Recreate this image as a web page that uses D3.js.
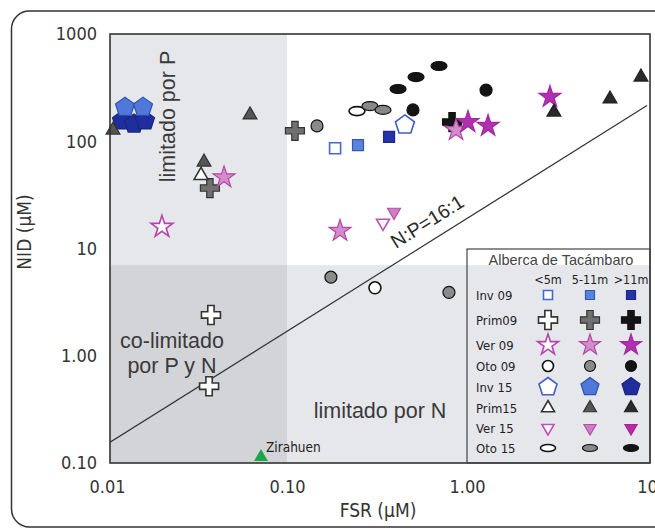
<!DOCTYPE html>
<html><head><meta charset="utf-8">
<script src="https://cdnjs.cloudflare.com/ajax/libs/d3/7.8.5/d3.min.js"></script>
<style>body{margin:0;background:#fff}svg{display:block}</style>
</head><body><svg id="c" width="655" height="529"></svg>
<script>
// ---- data ----
const xTickValues = [0.01, 0.1, 1, 10];
const xTickLabels = ["0.01", "0.10", "1.00", "10"];
const yTickValues = [0.1, 1, 10, 100, 1000];
const yTickLabels = ["0.10", "1.00", "10", "100", "1000"];
const depthClasses = ["<5m", "5-11m", ">11m"];
const seasons = ["Inv 09", "Prim09", "Ver 09", "Oto 09", "Inv 15", "Prim15", "Ver 15", "Oto 15"];
const legendTitle = "Alberca de Tacámbaro";
// points: [FSR µM, NID µM, depth class index]
const inv09  = [[0.185, 86, 0], [0.248, 92, 1], [0.369, 110, 2]];
const prim09 = [[0.0378, 2.4, 0], [0.0369, 0.52, 0], [0.0373, 36.6, 1], [0.1107, 125, 1], [0.826, 151, 2]];
const oto09  = [[0.1468, 139, 1], [0.1754, 5.4, 1], [0.794, 3.9, 1], [0.308, 4.3, 0], [0.501, 196, 2], [1.276, 300, 2]];
const inv15  = [[0.452, 142, 0], [0.01212, 155, 2], [0.01413, 145, 2], [0.01626, 155, 2], [0.01259, 208, 1], [0.01585, 208, 1]];
const prim15 = [[0.0333, 48, 0], [0.0108, 127, 1], [0.0623, 176, 1], [0.0346, 64, 1], [3.04, 187, 2], [6.23, 248, 2], [9.26, 397, 2]];
const ver15  = [[0.3415, 17.3, 0], [0.393, 21.9, 1]];
const oto15  = [[0.2448, 191, 0], [0.289, 213, 1], [0.3415, 196, 1], [0.414, 307, 2], [0.521, 397, 2], [0.699, 503, 2]];
const ver09  = [[0.0202, 15.9, 0], [0.0447, 46, 1], [0.197, 14.6, 1], [0.869, 127, 1], [1.013, 151, 2], [1.309, 139, 2], [2.89, 259, 2]];
const zirahuen = [[0.0717, 0.114]];
const ratioLineX = [0.01, 10];
const ratioLineY = [0.15, 215];
const pLimit = 0.1;
const nLimit = 7;

// ---- styles ----
const seriesData = [inv09, prim09, ver09, oto09, inv15, prim15, ver15, oto15];
const shapes = ["square", "cross", "star", "circle", "pentagon", "triUp", "triDown", "ellipse"];
const styles = [
  [{f:"#fff",s:"#4568cc"},{f:"#5a83dc",s:"#3558b8"},{f:"#2434a6",s:"#1b288a"}],
  [{f:"#fff",s:"#333"},{f:"#707070",s:"#333"},{f:"#151515",s:"#111"}],
  [{f:"#fff",s:"#b445ae"},{f:"#d48ccb",s:"#b048a8"},{f:"#b22fb0",s:"#a12aa0"}],
  [{f:"#fff",s:"#111"},{f:"#8a8a8a",s:"#111"},{f:"#141414",s:"#111"}],
  [{f:"#fff",s:"#3f5ec8"},{f:"#5078d8",s:"#3050b0"},{f:"#1f2e9c",s:"#1a2580"}],
  [{f:"#fff",s:"#333"},{f:"#555",s:"#333"},{f:"#2a2a2a",s:"#222"}],
  [{f:"#fff",s:"#c050b8"},{f:"#d27cc6",s:"#b050a8"},{f:"#b82aa8",s:"#a82098"}],
  [{f:"#fff",s:"#111"},{f:"#888",s:"#111"},{f:"#141414",s:"#111"}]
];
const plotSizes = {square:11, cross:19, star:11.5, circle:6, pentagon:10, triUp:8, triDown:7.5, ellipse:[8,4.5]};
const legSizes  = {square:9, cross:19, star:11, circle:5.5, pentagon:9.5, triUp:7.5, triDown:7, ellipse:[7.5,3.5]};

function polyPath(R, angles){
  return "M" + angles.map(a => [R*Math.cos(a*Math.PI/180), R*Math.sin(a*Math.PI/180)].map(v=>v.toFixed(2)).join(",")).join("L") + "Z";
}
function shapePath(shape, sz){
  switch(shape){
    case "square": return d3.symbol(d3.symbolSquare, sz*sz)();
    case "cross": return d3.symbol(d3.symbolCross, 5*(sz/3)*(sz/3))();
    case "star": return d3.symbol(d3.symbolStar, sz*sz/0.8908130915292852)();
    case "circle": return d3.symbol(d3.symbolCircle, Math.PI*sz*sz)();
    case "pentagon": return polyPath(sz, [-90,-18,54,126,198]);
    case "triUp": return polyPath(sz, [-90,30,150]);
    case "triDown": return polyPath(sz, [90,210,330]);
    case "ellipse": {const [rx,ry]=sz; return `M${-rx},0A${rx},${ry} 0 1,0 ${rx},0A${rx},${ry} 0 1,0 ${-rx},0Z`;}
  }
}

// ---- layout ----
const svg = d3.select("#c");
const L = 110, R = 650, T = 34, B = 463;
const x = d3.scaleLog().domain([0.01, 10]).range([107, 647]);
const y = d3.scaleLog().domain([0.1, 1000]).range([B, T]);

// outer frame
svg.append("rect").attr("x",11.5).attr("y",11).attr("width",662).attr("height",516)
  .attr("rx",18).attr("fill","none").attr("stroke","#333").attr("stroke-width",1.5);

const defs = svg.append("defs");
defs.append("clipPath").attr("id","pc").append("rect").attr("x",L).attr("y",T).attr("width",R-L).attr("height",B-T);

// regions
const bg = svg.append("g").attr("clip-path","url(#pc)");
bg.append("rect").attr("x",L).attr("y",T).attr("width",R-L).attr("height",B-T).attr("fill","#fff");
bg.append("rect").attr("x",L).attr("y",T).attr("width",x(pLimit)-L).attr("height",B-T).attr("fill","#e6e7eb");
bg.append("rect").attr("x",L).attr("y",y(nLimit)).attr("width",R-L).attr("height",B-y(nLimit)).attr("fill","#e6e7eb");
bg.append("rect").attr("x",L).attr("y",y(nLimit)).attr("width",x(pLimit)-L).attr("height",B-y(nLimit)).attr("fill","#d3d4d8");

// ratio line
bg.append("path").datum(ratioLineX.map((v,i)=>[v, ratioLineY[i]]))
  .attr("d", d3.line().x(d=>x(d[0])).y(d=>y(d[1])))
  .attr("fill","none").attr("stroke","#333").attr("stroke-width",1.2);

// region labels
const regFont = "'Liberation Sans', Arial, sans-serif";
svg.append("text").attr("transform","translate(175,116.5) rotate(-90)").attr("text-anchor","middle")
  .attr("font-family",regFont).attr("font-size",21.5).attr("fill","#3a3a3a").text("limitado por P");
svg.append("text").attr("x",172).attr("y",348).attr("text-anchor","middle")
  .attr("font-family",regFont).attr("font-size",21.5).attr("fill","#3a3a3a").text("co-limitado");
svg.append("text").attr("x",172).attr("y",373).attr("text-anchor","middle")
  .attr("font-family",regFont).attr("font-size",21.5).attr("fill","#3a3a3a").text("por P y N");
svg.append("text").attr("x",380).attr("y",418).attr("text-anchor","middle")
  .attr("font-family",regFont).attr("font-size",21.5).attr("fill","#3a3a3a").text("limitado por N");
svg.append("text").attr("transform","translate(396,249) rotate(-32)")
  .attr("font-family",regFont).attr("font-size",19.5).attr("fill","#2a2a2a").text("N:P=16:1");

// axes
const narrow = "'Liberation Sans Narrow', 'DejaVu Sans Condensed', 'Arial Narrow', sans-serif";
const xa = svg.append("g").attr("transform",`translate(0,${B})`)
  .call(d3.axisBottom(x).tickValues(xTickValues).tickFormat((d,i)=>xTickLabels[i]).tickSize(0).tickPadding(17));
const ya = svg.append("g").attr("transform",`translate(${L},0)`)
  .call(d3.axisLeft(y).tickValues(yTickValues).tickFormat((d,i)=>yTickLabels[i]).tickSize(0).tickPadding(13));
[xa, ya].forEach(a => {
  a.select(".domain").remove();
  a.selectAll("text").attr("font-family",narrow).attr("font-size",18).attr("fill","#333");
});
svg.append("text").attr("x",378).attr("y",517).attr("text-anchor","middle")
  .attr("font-family",narrow).attr("font-size",19).attr("fill","#333").text("FSR (µM)");
svg.append("text").attr("transform","translate(31,232) rotate(-90)").attr("text-anchor","middle")
  .attr("font-family",narrow).attr("font-size",19).attr("fill","#333").text("NID (µM)");

// points
const pts = svg.append("g");
seriesData.forEach((data, si) => {
  const shape = shapes[si];
  pts.selectAll(null).data(data).enter().append("path")
    .attr("transform", d => `translate(${x(d[0])},${y(d[1])})`)
    .attr("d", shapePath(shape, plotSizes[shape]))
    .attr("fill", d => styles[si][d[2]].f)
    .attr("stroke", d => styles[si][d[2]].s)
    .attr("stroke-width", d => d[2] === 0 ? 1.6 : 1.2);
});
pts.selectAll(null).data(zirahuen).enter().append("path")
  .attr("transform", d => `translate(${x(d[0])},${y(d[1])})`)
  .attr("d", shapePath("triUp", 8)).attr("fill","#1aa64a");
svg.append("text").attr("x",266).attr("y",452).attr("font-family",narrow).attr("font-size",13.5)
  .attr("fill","#222").text("Zirahuen");

// plot border
svg.append("rect").attr("x",L).attr("y",T).attr("width",R-L).attr("height",B-T)
  .attr("fill","none").attr("stroke","#333").attr("stroke-width",1.6);

// legend
const lg = svg.append("g");
lg.append("rect").attr("x",467).attr("y",249).attr("width",R-467).attr("height",B-249)
  .attr("fill","none").attr("stroke","#444").attr("stroke-width",1.2);
lg.append("text").attr("x",561).attr("y",264.5).attr("text-anchor","middle")
  .attr("font-family",regFont).attr("font-size",14.5).attr("fill","#444").text(legendTitle);
const colX = [548, 590, 631];
const rowY = [295, 320, 345, 366, 387, 408, 428, 448];
depthClasses.forEach((c,i) => lg.append("text").attr("x",colX[i]).attr("y",284).attr("text-anchor","middle")
  .attr("font-family",narrow).attr("font-size",12.5).attr("fill","#222").text(c));
seasons.forEach((s, si) => {
  lg.append("text").attr("x",476).attr("y",rowY[si]+4.5).attr("font-family",narrow)
    .attr("font-size",13).attr("fill","#222").text(s);
  const shape = shapes[si];
  depthClasses.forEach((c, di) => {
    lg.append("path").attr("transform",`translate(${colX[di]},${rowY[si]})`)
      .attr("d", shapePath(shape, legSizes[shape]))
      .attr("fill", styles[si][di].f).attr("stroke", styles[si][di].s)
      .attr("stroke-width", di === 0 ? 1.6 : 1.2);
  });
});
</script></body></html>
